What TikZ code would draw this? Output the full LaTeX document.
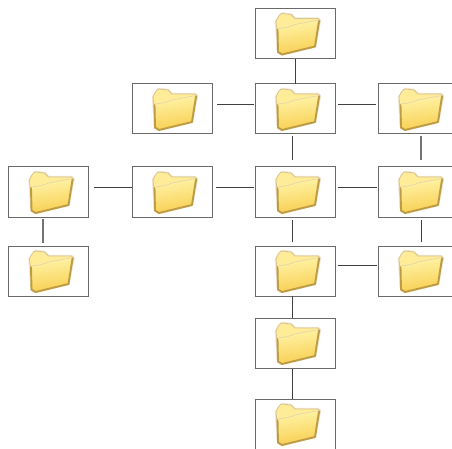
\documentclass[tikz,border=0pt]{standalone}
\definecolor{boxline}{HTML}{6A6A6A}
\definecolor{edgeGold}{HTML}{BE9C44}
\definecolor{backFold}{HTML}{FFEC98}
\definecolor{frontTop}{HTML}{FFF4A8}
\definecolor{frontBot}{HTML}{F8CE50}
\tikzset{
  x=1pt,y=-1pt,
  folderbox/.style={draw=boxline,line width=1pt,fill=white,minimum width=80pt,minimum height=50pt,inner sep=0pt,outer sep=0pt},
  link/.style={draw=black!75,line width=1pt},
  greylink/.style={draw=black!55,line width=1.3pt},
  folder/.pic={
    % soft halo
    \fill[edgeGold!22,draw=edgeGold!22,line width=2.4pt,line join=round]
      (-19,-12) -- (-13,-20) -- (-4,-19) -- (0,-15) -- (23,-15) -- (25,-13) -- (20,13) -- (-13,21) -- (-17,18.5) -- cycle;
    % back
    \fill[backFold,draw=edgeGold!60,line width=0.8pt,line join=round]
      (-19,-12) .. controls (-17,-17) and (-15,-20) .. (-13,-20) -- (-4,-19) -- (0,-15) -- (23,-15) -- (25,-13) -- (21,5) -- (-17,8) -- cycle;
    % front
    \path[top color=frontTop,bottom color=frontBot,shading angle=8]
      (-17.5,-5) .. controls (-10,-5.5) and (-4,-7) .. (0,-9) -- (24,-13.5) -- (20,13) -- (-13,21) -- (-17.5,18.5) -- cycle;
    % shaded right and bottom edge
    \draw[edgeGold,line width=1.9pt,line join=round,line cap=round]
      (24,-12.5) -- (20,13) -- (-13,21) -- (-17,18.5) -- (-17.5,-4);
    \draw[edgeGold!45,line width=0.6pt,line join=round]
      (-17.5,-5) .. controls (-10,-5.5) and (-4,-7) .. (0,-9) -- (24,-13.5);
  }
}
\newcommand{\folderat}[2]{\node[folderbox] (#1) at (#2) {}; \pic at (#1.center) {folder};}
\begin{document}
\begin{tikzpicture}
\useasboundingbox (0,0) rectangle (452,449);
\fill[white] (0,0) rectangle (452,449);
\folderat{n1}{295,33.5}
\folderat{n2}{172,109}
\folderat{n3}{295,109}
\folderat{n4}{418,109}
\folderat{n5}{48.5,192}
\folderat{n6}{172,192}
\folderat{n7}{295,192}
\folderat{n8}{418,192}
\folderat{n9}{48.5,271}
\folderat{n10}{295,271}
\folderat{n11}{418,271}
\folderat{n12}{295,343}
\folderat{n13}{295,424}
% vertical connectors
\draw[link,shorten >=0pt,shorten <=1pt] (n1.south) -- (n3.north);
\draw[link,shorten >=7pt,shorten <=2pt] ([xshift=-3pt]n3.south) -- ([xshift=-3pt]n7.north);
\draw[greylink,shorten >=7pt,shorten <=2pt] ([xshift=3pt]n4.south) -- ([xshift=3pt]n8.north);
\draw[link,shorten >=4pt,shorten <=3pt] ([xshift=-3pt]n7.south) -- ([xshift=-3pt]n10.north);
\draw[link,shorten >=4pt,shorten <=3pt] ([xshift=3pt]n8.south) -- ([xshift=3pt]n11.north);
\draw[greylink,shorten >=3pt,shorten <=2pt] ([xshift=-5.5pt]n5.south) -- ([xshift=-5.5pt]n9.north);
\draw[link] ([xshift=-3pt]n10.south) -- ([xshift=-3pt]n12.north);
\draw[link,shorten <=1pt] ([xshift=-3pt]n12.south) -- ([xshift=-3pt]n13.north);
% horizontal connectors
\draw[link,shorten <=5pt,shorten >=1pt] ([yshift=4pt]n2.east) -- ([yshift=4pt]n3.west);
\draw[link,shorten <=3pt,shorten >=2pt] ([yshift=4pt]n3.east) -- ([yshift=4pt]n4.west);
\draw[link,shorten <=5pt,shorten >=0pt] ([yshift=4pt]n5.east) -- ([yshift=4pt]n6.west);
\draw[link,shorten <=4pt,shorten >=1pt] ([yshift=4pt]n6.east) -- ([yshift=4pt]n7.west);
\draw[link,shorten <=3pt,shorten >=1pt] ([yshift=4pt]n7.east) -- ([yshift=4pt]n8.west);
\draw[link,shorten <=3pt,shorten >=1pt] ([yshift=6pt]n10.east) -- ([yshift=6pt]n11.west);
\end{tikzpicture}
\end{document}
